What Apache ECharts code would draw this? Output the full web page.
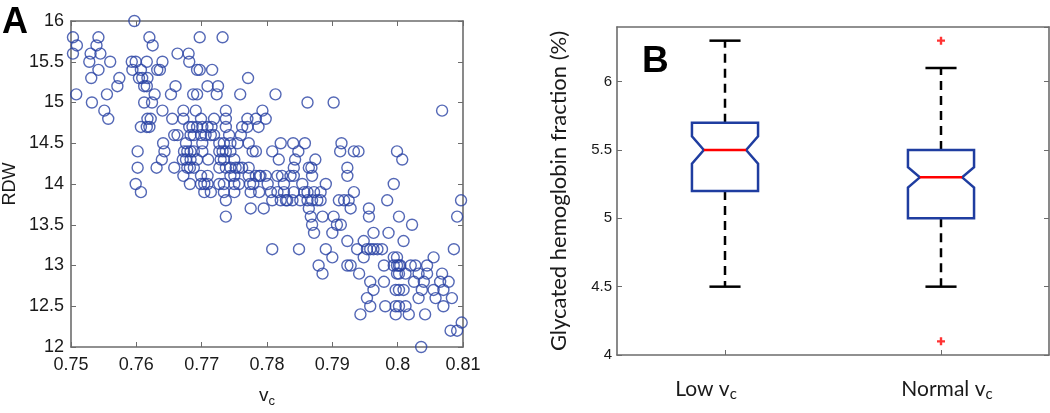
<!DOCTYPE html>
<html><head><meta charset="utf-8">
<script src="https://cdn.jsdelivr.net/npm/echarts@6/dist/echarts.min.js"></script>
<style>html,body{margin:0;padding:0;background:#fff}#c{width:1050px;height:413px}</style>
</head><body><div id="c"></div>
<script>
// ---------- Panel A data: [v_c, RDW] ----------
const scatterPoints = [
 [0.7597,16.0],
 [0.7503,15.8],[0.7542,15.8],[0.7620,15.8],[0.7697,15.8],[0.7732,15.8],
 [0.7509,15.7],[0.7539,15.7],[0.7625,15.7],
 [0.7503,15.6],[0.7530,15.6],[0.7545,15.6],[0.7663,15.6],[0.7680,15.6],
 [0.7528,15.5],[0.7560,15.5],[0.7593,15.5],[0.7599,15.5],[0.7616,15.5],[0.7640,15.5],[0.7681,15.5],
 [0.7542,15.4],[0.7594,15.4],[0.7607,15.4],[0.7632,15.4],[0.7636,15.4],[0.7693,15.4],[0.7697,15.4],[0.7716,15.4],
 [0.7531,15.3],[0.7574,15.3],[0.7604,15.3],[0.7609,15.3],[0.7617,15.3],[0.7771,15.3],
 [0.7571,15.2],[0.7612,15.2],[0.7616,15.2],[0.7660,15.2],[0.7709,15.2],[0.7725,15.2],
 [0.7508,15.1],[0.7555,15.1],[0.7628,15.1],[0.7653,15.1],[0.7687,15.1],[0.7693,15.1],[0.7723,15.1],[0.7759,15.1],[0.7813,15.1],
 [0.7532,15.0],[0.7612,15.0],[0.7624,15.0],[0.7862,15.0],[0.7902,15.0],
 [0.7551,14.9],[0.7640,14.9],[0.7672,14.9],[0.7691,14.9],[0.7737,14.9],[0.7793,14.9],[0.8068,14.9],
 [0.7557,14.8],[0.7617,14.8],[0.7622,14.8],[0.7655,14.8],[0.7672,14.8],[0.7699,14.8],[0.7719,14.8],[0.7737,14.8],[0.7770,14.8],[0.7783,14.8],[0.7798,14.8],
 [0.7607,14.7],[0.7616,14.7],[0.7620,14.7],[0.7681,14.7],[0.7686,14.7],[0.7693,14.7],[0.7701,14.7],[0.7709,14.7],[0.7715,14.7],[0.7737,14.7],[0.7762,14.7],[0.7770,14.7],[0.7787,14.7],
 [0.7658,14.6],[0.7663,14.6],[0.7683,14.6],[0.7688,14.6],[0.7699,14.6],[0.7706,14.6],[0.7714,14.6],[0.7719,14.6],[0.7742,14.6],[0.7760,14.6],
 [0.7641,14.5],[0.7676,14.5],[0.7701,14.5],[0.7727,14.5],[0.7734,14.5],[0.7744,14.5],[0.7755,14.5],[0.7772,14.5],[0.7821,14.5],[0.7840,14.5],[0.7858,14.5],[0.7914,14.5],
 [0.7602,14.4],[0.7643,14.4],[0.7673,14.4],[0.7678,14.4],[0.7683,14.4],[0.7688,14.4],[0.7701,14.4],[0.7727,14.4],[0.7732,14.4],[0.7737,14.4],[0.7744,14.4],[0.7778,14.4],[0.7783,14.4],[0.7808,14.4],[0.7848,14.4],[0.7912,14.4],[0.7933,14.4],[0.7940,14.4],[0.7999,14.4],
 [0.7639,14.3],[0.7671,14.3],[0.7676,14.3],[0.7683,14.3],[0.7693,14.3],[0.7710,14.3],[0.7729,14.3],[0.7734,14.3],[0.7750,14.3],[0.7818,14.3],[0.7843,14.3],[0.7874,14.3],[0.8007,14.3],
 [0.7602,14.2],[0.7631,14.2],[0.7658,14.2],[0.7678,14.2],[0.7682,14.2],[0.7688,14.2],[0.7727,14.2],[0.7737,14.2],[0.7744,14.2],[0.7752,14.2],[0.7757,14.2],[0.7762,14.2],[0.7772,14.2],[0.7841,14.2],[0.7864,14.2],[0.7868,14.2],[0.7923,14.2],
 [0.7672,14.1],[0.7699,14.1],[0.7709,14.1],[0.7744,14.1],[0.7750,14.1],[0.7772,14.1],[0.7783,14.1],[0.7788,14.1],[0.7790,14.1],[0.7798,14.1],[0.7816,14.1],[0.7823,14.1],[0.7836,14.1],[0.7841,14.1],[0.7869,14.1],[0.7923,14.1],
 [0.7599,14.0],[0.7682,14.0],[0.7699,14.0],[0.7704,14.0],[0.7709,14.0],[0.7727,14.0],[0.7734,14.0],[0.7750,14.0],[0.7757,14.0],[0.7774,14.0],[0.7779,14.0],[0.7801,14.0],[0.7826,14.0],[0.7854,14.0],[0.7890,14.0],[0.7994,14.0],
 [0.7607,13.9],[0.7704,13.9],[0.7714,13.9],[0.7734,13.9],[0.7750,13.9],[0.7775,13.9],[0.7788,13.9],[0.7806,13.9],[0.7816,13.9],[0.7826,13.9],[0.7841,13.9],[0.7857,13.9],[0.7862,13.9],[0.7872,13.9],[0.7882,13.9],[0.7933,13.9],
 [0.7737,13.8],[0.7808,13.8],[0.7821,13.8],[0.7829,13.8],[0.7831,13.8],[0.7839,13.8],[0.7851,13.8],[0.7862,13.8],[0.7869,13.8],[0.7877,13.8],[0.7882,13.8],[0.7910,13.8],[0.7918,13.8],[0.7925,13.8],[0.7984,13.8],[0.8097,13.8],
 [0.7775,13.7],[0.7795,13.7],[0.7864,13.7],[0.7928,13.7],[0.7956,13.7],
 [0.7737,13.6],[0.7867,13.6],[0.7885,13.6],[0.7902,13.6],[0.7956,13.6],[0.8002,13.6],[0.8091,13.6],
 [0.7869,13.5],[0.7907,13.5],[0.7913,13.5],[0.8022,13.5],
 [0.7872,13.4],[0.7900,13.4],[0.7963,13.4],[0.7986,13.4],
 [0.7923,13.3],[0.7948,13.3],[0.8009,13.3],
 [0.7808,13.2],[0.7849,13.2],[0.7890,13.2],[0.7938,13.2],[0.7953,13.2],[0.7958,13.2],[0.7963,13.2],[0.7969,13.2],[0.7976,13.2],[0.8086,13.2],
 [0.7900,13.1],[0.7948,13.1],[0.7994,13.1],[0.7999,13.1],[0.8055,13.1],
 [0.7879,13.0],[0.7923,13.0],[0.7928,13.0],[0.7979,13.0],[0.7994,13.0],[0.7999,13.0],[0.8002,13.0],[0.8004,13.0],[0.8020,13.0],[0.8027,13.0],[0.8045,13.0],
 [0.7885,12.9],[0.7941,12.9],[0.7999,12.9],[0.8002,12.9],[0.8012,12.9],[0.8032,12.9],[0.8045,12.9],[0.8068,12.9],
 [0.7958,12.8],[0.7979,12.8],[0.8025,12.8],[0.8040,12.8],[0.8065,12.8],[0.8078,12.8],
 [0.7963,12.7],[0.7997,12.7],[0.8002,12.7],[0.8009,12.7],[0.8037,12.7],[0.8055,12.7],[0.8070,12.7],
 [0.7953,12.6],[0.8032,12.6],[0.8058,12.6],[0.8083,12.6],
 [0.7958,12.5],[0.7981,12.5],[0.7997,12.5],[0.8002,12.5],[0.8012,12.5],[0.8070,12.5],
 [0.7943,12.4],[0.7997,12.4],[0.8017,12.4],[0.8042,12.4],
 [0.8098,12.3],
 [0.8081,12.2],[0.8091,12.2],
 [0.8036,12.0]
];

// ---------- Panel B data ----------
const boxCategories = ['Low', 'Normal'];
const whiskerLow  = [4.5, 4.5];
const quartile1   = [5.2, 5.0];
const medians     = [5.5, 5.3];
const quartile3   = [5.7, 5.5];
const whiskerHigh = [6.3, 6.1];
const notchLow    = [5.40, 5.225];
const notchHigh   = [5.60, 5.375];
const outlierPoints = [[1, 6.3], [1, 4.1]];

const gray = '#6c6c6c';
const ink = '#1a1a1a';
const arial = 'Liberation Sans';
const sans = 'Lato';

function frameX(grid, pos, extra) {
  return Object.assign({
    gridIndex: grid, position: pos,
    axisLine: {show: true, onZero: false, lineStyle: {color: gray, width: 1.6}},
    axisTick: {show: true, inside: true, length: 5, lineStyle: {color: gray, width: 1}},
    splitLine: {show: false}
  }, extra);
}

const boxData = boxCategories.map((c, i) => [i, whiskerLow[i], quartile1[i], medians[i], quartile3[i], whiskerHigh[i], notchLow[i], notchHigh[i]]);

function renderBox(params, api) {
  const i = api.value(0);
  const lo = api.value(1), q1 = api.value(2), md = api.value(3), q3 = api.value(4), hi = api.value(5), nl = api.value(6), nh = api.value(7);
  const bw = api.size([1, 0])[0];
  const hw = bw * 0.153, inset = bw * 0.055, cw = bw * 0.072;
  const cx = api.coord([i, md])[0];
  const Y = v => api.coord([i, v])[1];
  const blue = '#1f3da0';
  const pts = [
    [cx - hw, Y(q1)], [cx + hw, Y(q1)], [cx + hw, Y(nl)], [cx + hw - inset, Y(md)], [cx + hw, Y(nh)],
    [cx + hw, Y(q3)], [cx - hw, Y(q3)], [cx - hw, Y(nh)], [cx - hw + inset, Y(md)], [cx - hw, Y(nl)]
  ];
  const dash = {stroke: '#000', lineWidth: 2.5, lineDash: [9, 6]};
  const solid = {stroke: '#000', lineWidth: 2.5};
  return {
    type: 'group',
    children: [
      {type: 'line', shape: {x1: cx, y1: Y(q3), x2: cx, y2: Y(hi)}, style: dash},
      {type: 'line', shape: {x1: cx, y1: Y(q1), x2: cx, y2: Y(lo)}, style: dash},
      {type: 'line', shape: {x1: cx - cw, y1: Y(hi), x2: cx + cw, y2: Y(hi)}, style: solid},
      {type: 'line', shape: {x1: cx - cw, y1: Y(lo), x2: cx + cw, y2: Y(lo)}, style: solid},
      {type: 'polygon', shape: {points: pts}, style: {fill: '#fff', stroke: blue, lineWidth: 2.5, lineJoin: 'miter'}},
      {type: 'line', shape: {x1: cx - hw + inset, y1: Y(md), x2: cx + hw - inset, y2: Y(md)}, style: {stroke: '#ff0000', lineWidth: 2.5}}
    ]
  };
}

const chart = echarts.init(document.getElementById('c'));
chart.setOption({
  animation: false,
  backgroundColor: '#fff',
  grid: [
    {left: 70, right: 587, top: 21, bottom: 56},
    {left: 617, right: 1, top: 27, bottom: 58}
  ],
  xAxis: [
    frameX(0, 'bottom', {type: 'value', min: 0.75, max: 0.81, interval: 0.01,
      axisLabel: {color: ink, fontSize: 18, fontFamily: arial, margin: 9},
      name: '{v|v}{s|c}', nameLocation: 'middle', nameGap: 36,
      nameTextStyle: {rich: {v: {fontSize: 19, fontFamily: arial, color: ink}, s: {fontSize: 13, fontFamily: arial, color: ink, padding: [12, 0, 0, 0]}}}}),
    frameX(0, 'top', {type: 'value', min: 0.75, max: 0.81, interval: 0.01, axisLabel: {show: false}}),
    frameX(1, 'bottom', {type: 'category', data: boxCategories, boundaryGap: true,
      axisTick: {show: true, inside: true, alignWithLabel: true, length: 5, lineStyle: {color: gray}},
      axisLabel: {margin: 21, formatter: (v, idx) => idx === 0
          ? '{n|' + v + ' v}{s|c}{gap| }'
          : '{pre| }{n|' + v + ' v}{s|c}',
        rich: {
          n: {fontSize: 21, fontFamily: sans, color: ink},
          s: {fontSize: 15, fontFamily: sans, color: ink, padding: [11, 0, 0, 0]},
          gap: {fontSize: 10, width: 38},
          pre: {fontSize: 10, width: 12}
        }}}),
    frameX(1, 'top', {type: 'category', data: boxCategories, axisTick: {show: false}, axisLabel: {show: false}})
  ],
  yAxis: [
    frameX(0, 'left', {type: 'value', min: 12, max: 16, interval: 0.5,
      axisLabel: {color: ink, fontSize: 18, fontFamily: arial, margin: 7},
      name: 'RDW', nameLocation: 'middle', nameGap: 52, nameRotate: 90,
      nameTextStyle: {fontSize: 18, fontFamily: arial, color: ink}}),
    frameX(0, 'right', {type: 'value', min: 12, max: 16, interval: 0.5, axisLabel: {show: false}}),
    frameX(1, 'left', {type: 'value', min: 4, max: 6.4, interval: 0.5,
      axisLabel: {color: ink, fontSize: 15, fontFamily: arial, margin: 5, showMaxLabel: false},
      name: 'Glycated hemoglobin fraction (%)', nameLocation: 'middle', nameGap: 47, nameRotate: 90,
      nameTextStyle: {fontSize: 22, fontFamily: sans, color: ink}}),
    frameX(1, 'right', {type: 'value', min: 4, max: 6.4, interval: 0.5, axisLabel: {show: false}})
  ],
  series: [
    {type: 'scatter', xAxisIndex: 0, yAxisIndex: 0, data: scatterPoints, symbol: 'circle', symbolSize: 11,
      itemStyle: {color: 'rgba(0,0,0,0)', borderColor: '#2942a4', borderWidth: 1.4}, silent: true},
    {type: 'custom', xAxisIndex: 2, yAxisIndex: 2, data: boxData, renderItem: renderBox,
      encode: {x: 0, y: [1, 2, 3, 4, 5]}, silent: true},
    {type: 'scatter', xAxisIndex: 2, yAxisIndex: 2, data: outlierPoints,
      symbol: 'path://M3.5,0H6.5V3.5H10V6.5H6.5V10H3.5V6.5H0V3.5H3.5Z', symbolSize: 8,
      itemStyle: {color: '#ff0000'}, silent: true}
  ],
  graphic: [
    {type: 'text', left: 2, top: 5, style: {text: 'A', fontSize: 36, fontWeight: 'bold', fontFamily: arial, fill: '#000'}},
    {type: 'text', left: 642, top: 43, style: {text: 'B', fontSize: 37, fontWeight: 'bold', fontFamily: arial, fill: '#000'}}
  ]
});
</script></body></html>
